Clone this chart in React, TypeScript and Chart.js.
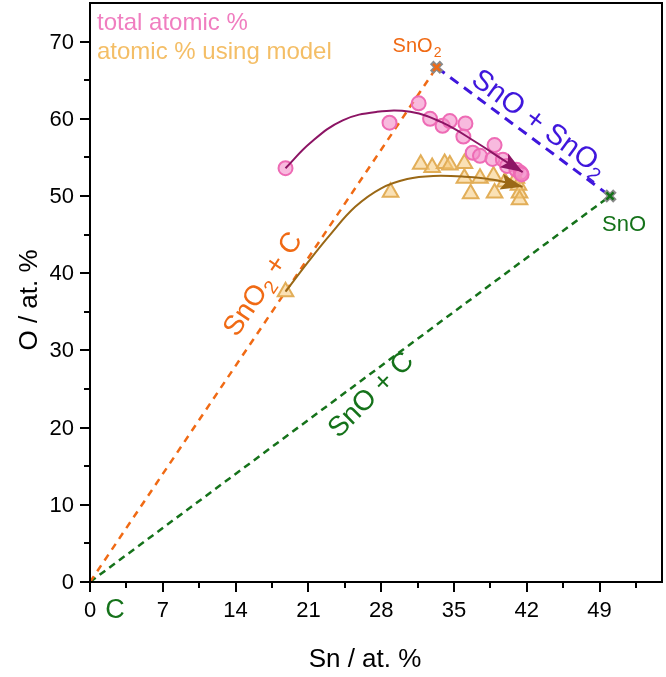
import React, { useEffect, useRef } from "react";
import { Chart, registerables } from "chart.js";

Chart.register(...registerables);

const W = 666;
const H = 677;

// measured data: total atomic %
const totalSn = [18.8, 28.8, 31.6, 32.7, 33.9, 34.6, 36.1, 35.9, 36.8, 37.5, 38.9, 38.7, 39.7, 40.1, 41.0, 41.4, 41.5];
const totalO = [53.6, 59.5, 62.0, 60.0, 59.1, 59.7, 59.4, 57.7, 55.6, 55.2, 56.6, 54.8, 54.7, 53.9, 53.4, 53.0, 52.8];
// atomic % using model
const modelSn = [18.8, 28.9, 31.8, 32.9, 34.1, 34.6, 36.0, 36.0, 36.6, 37.5, 38.8, 38.9, 39.9, 41.0, 41.2, 41.3, 41.3];
const modelO = [37.6, 50.5, 54.1, 53.7, 54.2, 54.0, 54.2, 52.3, 50.3, 52.3, 52.6, 50.4, 51.8, 52.3, 51.4, 50.4, 49.5];

// trend arrows (guide curves)
const totalTrendSn = [18.8, 21.2, 24.3, 27.6, 30.8, 33.9, 37.2, 39.7, 41.6];
const totalTrendO = [53.6, 56.9, 59.8, 60.9, 60.9, 59.5, 56.9, 54.7, 53.1];
const modelTrendSn = [18.8, 21.0, 23.1, 25.5, 28.0, 30.5, 33.0, 36.0, 38.8, 41.6];
const modelTrendO = [37.6, 41.5, 45.0, 48.6, 51.0, 52.2, 52.6, 52.5, 52.1, 51.2];

// reference compositions: C, SnO2, SnO
const refNames = ["C", "SnO2", "SnO"];
const refSn = [0, 33.33, 50];
const refO = [0, 66.67, 50];

const xMajorTicks = [0, 7, 14, 21, 28, 35, 42, 49];
const xMinorTicks = [3.5, 10.5, 17.5, 24.5, 31.5, 38.5, 45.5, 52.5];
const yMajorTicks = [0, 10, 20, 30, 40, 50, 60, 70];
const yMinorTicks = [5, 15, 25, 35, 45, 55, 65];

const FONT = "'Liberation Sans', Arial, sans-serif";

const PINK_BORDER = "#ee6bb5";
const PINK_FILL = "rgba(244,140,200,0.6)";
const GOLD_BORDER = "#e2ae58";
const GOLD_FILL = "rgba(245,200,120,0.55)";
const PURPLE = "#8c1464";
const BROWN = "#9a6816";
const ORANGE = "#f06a14";
const GREEN = "#15721a";
const BLUE = "#3f16dc";

const pts = (xs: number[], ys: number[]) => xs.map((x, i) => ({ x, y: ys[i] }));
const seg = (a: number, b: number) => [
  { x: refSn[a], y: refO[a] },
  { x: refSn[b], y: refO[b] },
];

type Part = { t: string; sub?: boolean };

function drawRich(ctx: CanvasRenderingContext2D, parts: Part[], size: number, color: string, cx: number, cy: number, angleDeg: number) {
  const subSize = size * 0.68;
  const widths = parts.map((p) => {
    ctx.font = `${p.sub ? subSize : size}px ${FONT}`;
    return ctx.measureText(p.t).width;
  });
  const total = widths.reduce((a, b) => a + b, 0);
  ctx.save();
  ctx.translate(cx, cy);
  ctx.rotate((angleDeg * Math.PI) / 180);
  ctx.fillStyle = color;
  ctx.textBaseline = "alphabetic";
  ctx.textAlign = "left";
  let x = -total / 2;
  const base = size * 0.36;
  parts.forEach((p, i) => {
    ctx.font = `${p.sub ? subSize : size}px ${FONT}`;
    ctx.fillText(p.t, x, p.sub ? base + size * 0.22 : base);
    x += widths[i];
  });
  ctx.restore();
}

function arrowHead(ctx: CanvasRenderingContext2D, chart: any, xs: number[], ys: number[], color: string) {
  const sx = chart.scales.x;
  const sy = chart.scales.y;
  const n = xs.length;
  const x1 = sx.getPixelForValue(xs[n - 2]);
  const y1 = sy.getPixelForValue(ys[n - 2]);
  const x2 = sx.getPixelForValue(xs[n - 1]);
  const y2 = sy.getPixelForValue(ys[n - 1]);
  const a = Math.atan2(y2 - y1, x2 - x1);
  const len = 22;
  const hw = 8;
  ctx.save();
  ctx.translate(x2, y2);
  ctx.rotate(a);
  ctx.fillStyle = color;
  ctx.beginPath();
  ctx.moveTo(0, 0);
  ctx.lineTo(-len, -hw);
  ctx.lineTo(-len * 0.8, 0);
  ctx.lineTo(-len, hw);
  ctx.closePath();
  ctx.fill();
  ctx.restore();
}

const deco = {
  id: "deco",
  afterDatasetsDraw(chart: any) {
    const ctx = chart.ctx as CanvasRenderingContext2D;
    arrowHead(ctx, chart, totalTrendSn, totalTrendO, PURPLE);
    arrowHead(ctx, chart, modelTrendSn, modelTrendO, BROWN);
  },
  afterDraw(chart: any) {
    const ctx = chart.ctx as CanvasRenderingContext2D;
    const { left, right, top, bottom } = chart.chartArea;
    const sx = chart.scales.x;
    const sy = chart.scales.y;
    ctx.save();
    ctx.strokeStyle = "#000";
    ctx.lineWidth = 2;
    ctx.strokeRect(left, top, right - left, bottom - top);
    ctx.beginPath();
    yMajorTicks.forEach((v) => {
      const p = Math.round(sy.getPixelForValue(v));
      ctx.moveTo(left - 10, p);
      ctx.lineTo(left, p);
    });
    yMinorTicks.forEach((v) => {
      const p = Math.round(sy.getPixelForValue(v));
      ctx.moveTo(left - 6, p);
      ctx.lineTo(left, p);
    });
    xMajorTicks.forEach((v) => {
      const p = Math.round(sx.getPixelForValue(v));
      ctx.moveTo(p, bottom);
      ctx.lineTo(p, bottom + 10);
    });
    xMinorTicks.forEach((v) => {
      const p = Math.round(sx.getPixelForValue(v));
      ctx.moveTo(p, bottom);
      ctx.lineTo(p, bottom + 6);
    });
    ctx.stroke();

    // tick labels
    ctx.fillStyle = "#000";
    ctx.font = `22px ${FONT}`;
    ctx.textAlign = "right";
    ctx.textBaseline = "middle";
    yMajorTicks.forEach((v) => ctx.fillText(String(v), left - 16, sy.getPixelForValue(v) + 1));
    ctx.textAlign = "center";
    ctx.textBaseline = "top";
    xMajorTicks.forEach((v) => ctx.fillText(String(v), sx.getPixelForValue(v), bottom + 18));

    // axis titles
    ctx.font = `26px ${FONT}`;
    ctx.textAlign = "center";
    ctx.textBaseline = "middle";
    ctx.fillText("Sn / at. %", 365, 660);
    ctx.save();
    ctx.translate(30, 300);
    ctx.rotate(-Math.PI / 2);
    ctx.fillText("O / at. %", 0, 0);
    ctx.restore();

    // legend
    ctx.textAlign = "left";
    ctx.textBaseline = "alphabetic";
    ctx.font = `24px ${FONT}`;
    ctx.fillStyle = "#f07ec0";
    ctx.fillText("total atomic %", left + 7, 30);
    ctx.fillStyle = "#f4be66";
    ctx.fillText("atomic % using model", left + 7, 59);

    // point labels
    ctx.fillStyle = GREEN;
    ctx.font = `27px ${FONT}`;
    ctx.textAlign = "center";
    ctx.fillText(refNames[0], left + 25, bottom + 36);

    ctx.font = `22px ${FONT}`;
    ctx.textAlign = "left";
    ctx.fillText("SnO", sx.getPixelForValue(refSn[2]) - 8, sy.getPixelForValue(refO[2]) + 35);

    // SnO2 label
    ctx.fillStyle = ORANGE;
    ctx.font = `20px ${FONT}`;
    const px2 = sx.getPixelForValue(refSn[1]);
    const py2 = sy.getPixelForValue(refO[1]);
    ctx.textAlign = "right";
    ctx.fillText("SnO", px2 - 4, py2 - 15);
    ctx.font = `14px ${FONT}`;
    ctx.textAlign = "left";
    ctx.fillText("2", px2 - 3, py2 - 10);

    // rotated line labels
    drawRich(ctx, [{ t: "SnO" }, { t: "2", sub: true }, { t: " + C" }], 28, ORANGE, sx.getPixelForValue(16.5), sy.getPixelForValue(38.7), -56);
    drawRich(ctx, [{ t: "SnO + SnO" }, { t: "2", sub: true }], 29, BLUE, sx.getPixelForValue(43.3), sy.getPixelForValue(59.6), 36.5);
    drawRich(ctx, [{ t: "SnO + C" }], 28, GREEN, sx.getPixelForValue(26.9), sy.getPixelForValue(24.4), -45);
    ctx.restore();
  },
};

export default function App() {
  const ref = useRef<HTMLCanvasElement | null>(null);
  useEffect(() => {
    const canvas = ref.current;
    if (!canvas) return;
    const chart = new Chart(canvas, {
      type: "scatter",
      data: {
        datasets: [
          {
            label: "total trend",
            data: pts(totalTrendSn, totalTrendO),
            showLine: true,
            tension: 0.4,
            pointRadius: 0,
            borderColor: PURPLE,
            borderWidth: 2,
            order: 0,
          },
          {
            label: "model trend",
            data: pts(modelTrendSn, modelTrendO),
            showLine: true,
            tension: 0.4,
            pointRadius: 0,
            borderColor: BROWN,
            borderWidth: 2,
            order: 0,
          },
          {
            label: "SnO2 inner",
            data: [{ x: refSn[1], y: refO[1] }],
            pointStyle: "crossRot",
            pointRadius: 5,
            borderWidth: 2.5,
            borderColor: ORANGE,
            order: 1,
          },
          {
            label: "SnO inner",
            data: [{ x: refSn[2], y: refO[2] }],
            pointStyle: "crossRot",
            pointRadius: 5,
            borderWidth: 2.5,
            borderColor: GREEN,
            order: 1,
          },
          {
            label: "ref outer",
            data: [
              { x: refSn[1], y: refO[1] },
              { x: refSn[2], y: refO[2] },
            ],
            pointStyle: "crossRot",
            pointRadius: 7,
            borderWidth: 5,
            borderColor: "#8a8a8a",
            order: 2,
          },
          {
            label: "total atomic %",
            data: pts(totalSn, totalO),
            pointStyle: "circle",
            pointRadius: 7,
            borderWidth: 2,
            borderColor: PINK_BORDER,
            backgroundColor: PINK_FILL,
            order: 3,
          },
          {
            label: "atomic % using model",
            data: pts(modelSn, modelO),
            pointStyle: "triangle",
            pointRadius: 9,
            borderWidth: 2,
            borderColor: GOLD_BORDER,
            backgroundColor: GOLD_FILL,
            order: 3,
          },
          {
            label: "SnO2 + C",
            data: seg(0, 1),
            showLine: true,
            pointRadius: 0,
            borderColor: ORANGE,
            borderWidth: 2.5,
            borderDash: [7, 6],
            order: 4,
          },
          {
            label: "SnO + C",
            data: seg(0, 2),
            showLine: true,
            pointRadius: 0,
            borderColor: GREEN,
            borderWidth: 2.5,
            borderDash: [7, 5],
            order: 4,
          },
          {
            label: "SnO + SnO2",
            data: seg(1, 2),
            showLine: true,
            pointRadius: 0,
            borderColor: BLUE,
            borderWidth: 3,
            borderDash: [10, 7],
            order: 4,
          },
        ],
      },
      options: {
        responsive: false,
        animation: false,
        devicePixelRatio: 1,
        layout: { autoPadding: false, padding: { top: 3, right: 4, left: 0, bottom: 0 } },
        plugins: { legend: { display: false }, tooltip: { enabled: false } },
        scales: {
          x: {
            type: "linear",
            min: 0,
            max: 55,
            ticks: { display: false },
            grid: { display: false },
            border: { display: false },
            afterFit: (s: any) => {
              s.height = 95;
            },
          },
          y: {
            type: "linear",
            min: 0,
            max: 75,
            ticks: { display: false },
            grid: { display: false },
            border: { display: false },
            afterFit: (s: any) => {
              s.width = 90;
            },
          },
        },
      },
      plugins: [deco],
    } as any);
    return () => chart.destroy();
  }, []);
  return (
    <div style={{ position: "fixed", left: 0, top: 0, width: W, height: H, background: "#fff" }}>
      <canvas ref={ref} width={W} height={H} style={{ display: "block", width: W, height: H }} />
    </div>
  );
}
